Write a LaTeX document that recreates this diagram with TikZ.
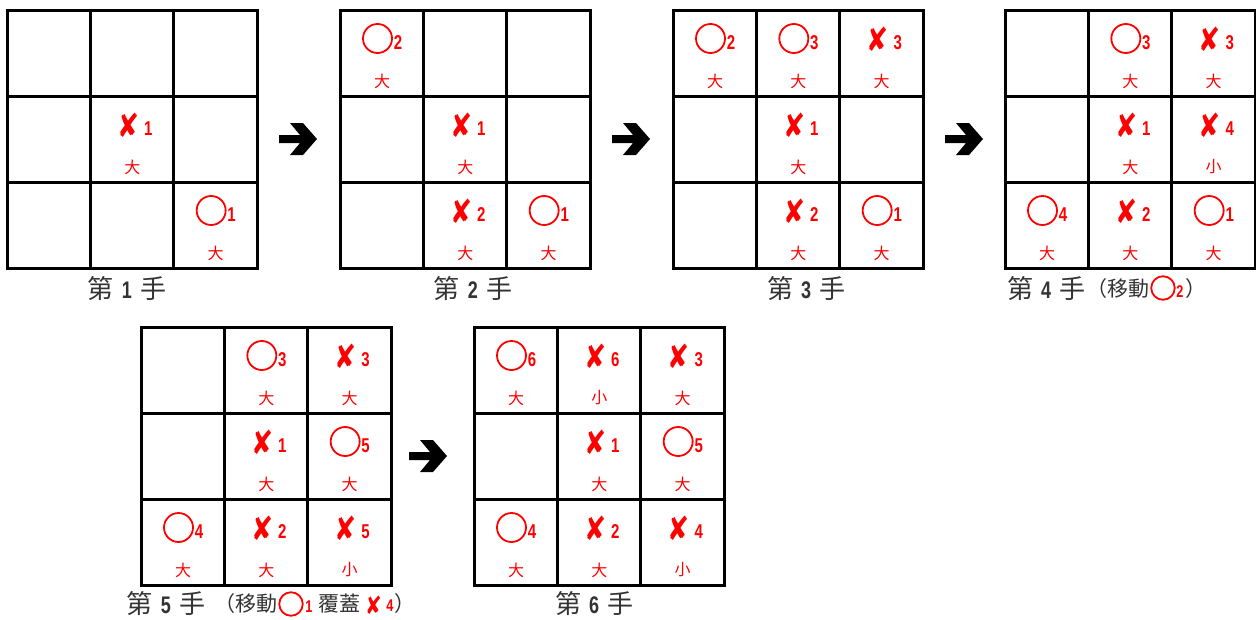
\documentclass[tikz,border=0pt]{standalone}
\usepackage{fontspec}
\setmainfont{Noto Sans CJK TC}
\newfontfamily\numfont[FakeStretch=0.75]{Liberation Sans}
\newfontfamily\symfont[FakeStretch=0.8]{DejaVu Sans}
\usetikzlibrary{calc,positioning}
\definecolor{markred}{RGB}{255,0,0}
\definecolor{captext}{RGB}{51,51,51}
\tikzset{
  boardline/.style={line width=3pt, line cap=rect},
  omark/.style={circle, draw=markred, line width=1.8pt, minimum size=29pt, inner sep=0pt},
  xmark/.style={text=markred, font=\symfont\fontsize{33}{33}\selectfont, inner sep=0pt},
  marknum/.style={text=markred, font=\numfont\bfseries\fontsize{20}{20}\selectfont, inner sep=0pt},
  sizelabel/.style={text=markred, font=\fontsize{16}{16}\selectfont, inner sep=0pt},
  caption/.style={text=captext, font=\fontsize{26}{26}\selectfont, inner sep=0pt},
  capsmall/.style={text=captext, font=\fontsize{21}{21}\selectfont, inner sep=0pt},
  capcircle/.style={circle, draw=markred, line width=1.8pt, minimum size=23.5pt, inner sep=0pt},
  capsub/.style={text=markred, font=\numfont\bfseries\fontsize{17}{17}\selectfont, inner sep=0pt},
  capx/.style={text=markred, font=\symfont\fontsize{25}{25}\selectfont, inner sep=0pt},
  bigarrow/.style={fill=black}
}
\newcommand{\capnum}{\numfont\bfseries\fontsize{24}{24}\selectfont}
\newcommand{\capgap}{\hspace{8pt}}

% board: name, left, top
\newcommand{\tttboard}[3]{%
  \coordinate (#1) at (#2,#3);
  \draw[boardline] (#1) rectangle ++(250,258);
  \foreach \k in {1,2} {
    \draw[boardline] ($(#1)+(\k*250/3,0)$) -- ++(0,258);
    \draw[boardline] ($(#1)+(0,\k*86)$) -- ++(250,0);
  }%
}
% pieces: board, col, row, number, size
\newcommand{\omk}[5]{%
  \node[omark] (#1o#2#3) at ($(#1)+(#2*250/3+37.5,#3*86+28.5)$) {};
  \node[marknum] (#1n#2#3) at ($(#1)+(#2*250/3+58,#3*86+33)$) {#4};
  \node[sizelabel] (#1s#2#3) at ($(#1)+(#2*250/3+42,#3*86+71)$) {#5};
}
\newcommand{\xmk}[5]{%
  \node[xmark] (#1x#2#3) at ($(#1)+(#2*250/3+38,#3*86+29)$) {✘};
  \node[marknum] (#1n#2#3) at ($(#1)+(#2*250/3+58,#3*86+33)$) {#4};
  \node[sizelabel] (#1s#2#3) at ($(#1)+(#2*250/3+42,#3*86+71)$) {#5};
}
\newcommand{\bigarrow}[1]{%
  \fill[bigarrow] (#1) ++(-38,-4) -- ++(21,0) -- ++(-10,-12) -- ++(13,0)
    -- ++(14,16) -- ++(-14,16) -- ++(-13,0) -- ++(10,-12) -- ++(-21,0) -- cycle;
}

\begin{document}
\begin{tikzpicture}[x=1pt, y=-1pt]
  \useasboundingbox (0,0) rectangle (1256,619);

  \tttboard{b1}{7}{10}
  \tttboard{b2}{340}{10}
  \tttboard{b3}{673}{10}
  \tttboard{b4}{1005}{10}
  \tttboard{b5}{141}{327}
  \tttboard{b6}{474}{327}

  % move 1
  \xmk{b1}{1}{1}{1}{大}
  \omk{b1}{2}{2}{1}{大}
  % move 2
  \omk{b2}{0}{0}{2}{大}
  \xmk{b2}{1}{1}{1}{大}
  \xmk{b2}{1}{2}{2}{大}
  \omk{b2}{2}{2}{1}{大}
  % move 3
  \omk{b3}{0}{0}{2}{大}
  \omk{b3}{1}{0}{3}{大}
  \xmk{b3}{2}{0}{3}{大}
  \xmk{b3}{1}{1}{1}{大}
  \xmk{b3}{1}{2}{2}{大}
  \omk{b3}{2}{2}{1}{大}
  % move 4
  \omk{b4}{1}{0}{3}{大}
  \xmk{b4}{2}{0}{3}{大}
  \xmk{b4}{1}{1}{1}{大}
  \xmk{b4}{2}{1}{4}{小}
  \omk{b4}{0}{2}{4}{大}
  \xmk{b4}{1}{2}{2}{大}
  \omk{b4}{2}{2}{1}{大}
  % move 5
  \omk{b5}{1}{0}{3}{大}
  \xmk{b5}{2}{0}{3}{大}
  \xmk{b5}{1}{1}{1}{大}
  \omk{b5}{2}{1}{5}{大}
  \omk{b5}{0}{2}{4}{大}
  \xmk{b5}{1}{2}{2}{大}
  \xmk{b5}{2}{2}{5}{小}
  % move 6
  \omk{b6}{0}{0}{6}{大}
  \xmk{b6}{1}{0}{6}{小}
  \xmk{b6}{2}{0}{3}{大}
  \xmk{b6}{1}{1}{1}{大}
  \omk{b6}{2}{1}{5}{大}
  \omk{b6}{0}{2}{4}{大}
  \xmk{b6}{1}{2}{2}{大}
  \xmk{b6}{2}{2}{4}{小}

  \coordinate (a1) at (317,139);
  \coordinate (a2) at (650,139);
  \coordinate (a3) at (983,139);
  \coordinate (a4) at (447,456);
  \bigarrow{a1}
  \bigarrow{a2}
  \bigarrow{a3}
  \bigarrow{a4}

  \node[caption] (cap1) at (127,289) {第\capgap{\capnum 1}\capgap 手};
  \node[caption] (cap2) at (473,289) {第\capgap{\capnum 2}\capgap 手};
  \node[caption] (cap3) at (806,289) {第\capgap{\capnum 3}\capgap 手};
  \node[caption] (cap6) at (594,604) {第\capgap{\capnum 6}\capgap 手};

  % caption 4, pieces
  \node[caption] (cap4) at (1046,289) {第\capgap{\capnum 4}\capgap 手};
  \node[capsmall, anchor=east] (cap4p) at (1150,289) {（移動};
  \node[capcircle] (cap4o) at (1163,288) {};
  \node[capsub] (cap4n) at (1180,292) {2};
  \node[capsmall, anchor=west] (cap4q) at (1185,289) {）};

  % caption 5, pieces
  \node[caption] (cap5) at (166,604) {第\capgap{\capnum 5}\capgap 手};
  \node[capsmall, anchor=east] (cap5p) at (278,604) {（移動};
  \node[capcircle] (cap5o) at (291,604) {};
  \node[capsub] (cap5n) at (309,607) {1};
  \node[capsmall] (cap5c) at (339,604) {覆蓋};
  \node[capx] (cap5x) at (373.5,605) {✘};
  \node[capsub] (cap5m) at (390,606) {4};
  \node[capsmall, anchor=west] (cap5q) at (394,604) {）};
\end{tikzpicture}
\end{document}
